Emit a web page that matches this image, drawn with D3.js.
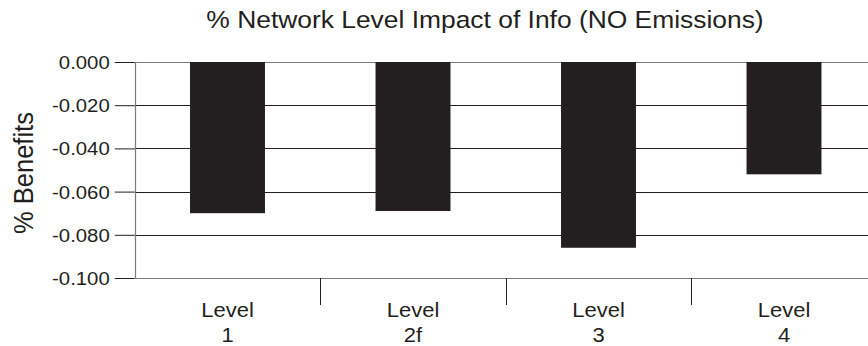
<!DOCTYPE html>
<html>
<head>
<meta charset="utf-8">
<script src="https://cdn.jsdelivr.net/npm/d3@7"></script>
<style>
html, body { margin: 0; padding: 0; background: #fff; }
svg { display: block; font-family: "Liberation Sans", Arial, Helvetica, sans-serif; }
</style>
</head>
<body>
<script>
const categories = ["Level 1", "Level 2f", "Level 3", "Level 4"];
const labelLines = [["Level", "1"], ["Level", "2f"], ["Level", "3"], ["Level", "4"]];
const values = [-0.070, -0.069, -0.086, -0.052];
const yTicks = [0, -0.02, -0.04, -0.06, -0.08, -0.1];
const titleText = "% Network Level Impact of Info (NO Emissions)";
const yAxisTitle = "% Benefits";

const W = 868, H = 346;
const svg = d3.select("body").append("svg").attr("width", W).attr("height", H);

const x = d3.scaleBand().domain(categories).range([134.75, 876.75])
  .paddingInner(0.596).paddingOuter(0.298);
const y = d3.scaleLinear().domain([-0.1, 0]).range([278, 62]);

const ink = "#231f20";
const grey = "#7a7a7a";
const sx = 1.1;
const fmt = d => d3.format(".3f")(d).replace("\u2212", "-");

// gridlines
svg.append("g").selectAll("line").data(yTicks.filter(d => d !== 0 && d !== -0.1)).join("line")
  .attr("x1", x.range()[0]).attr("x2", x.range()[1])
  .attr("y1", d => Math.round(y(d)) + 0.5).attr("y2", d => Math.round(y(d)) + 0.5)
  .attr("stroke", ink).attr("stroke-width", 1);
// top zero line
svg.append("line").attr("x1", x.range()[0]).attr("x2", x.range()[1])
  .attr("y1", Math.round(y(0)) + 0.5).attr("y2", Math.round(y(0)) + 0.5)
  .attr("stroke", grey).attr("stroke-width", 1);

// bars
svg.append("g").selectAll("rect").data(values).join("rect")
  .attr("x", (d, i) => x(categories[i]))
  .attr("width", x.bandwidth())
  .attr("y", d => y(0))
  .attr("height", d => y(d) - y(0))
  .attr("fill", ink);

// y axis
const yAxis = d3.axisLeft(y).tickValues(yTicks).tickSize(20).tickFormat(fmt);
const gy = svg.append("g").attr("transform", `translate(${x.range()[0]},0)`).call(yAxis);
gy.select(".domain").remove();
gy.selectAll(".tick line").attr("stroke", ink);
gy.selectAll(".tick text").remove();
gy.selectAll(".tick").append("text")
  .attr("fill", ink)
  .attr("font-size", 18.5)
  .attr("text-anchor", "end")
  .attr("dy", "0.35em")
  .attr("transform", `translate(-25,0) scale(${sx},1)`)
  .text(d => fmt(d));
svg.append("line").attr("x1", 135.5).attr("x2", 135.5).attr("y1", y(0)).attr("y2", y(-0.1))
  .attr("stroke", grey).attr("stroke-width", 1.2);

// x axis line
svg.append("line").attr("x1", x.range()[0]).attr("x2", x.range()[1])
  .attr("y1", Math.round(y(-0.1)) + 0.5).attr("y2", Math.round(y(-0.1)) + 0.5)
  .attr("stroke", grey).attr("stroke-width", 1.2);

// category separators
const seps = categories.slice(1).map(c => x(c) - x.step() * x.paddingInner() / 2);
svg.append("g").selectAll("line").data(seps).join("line")
  .attr("x1", d => Math.round(d) + 0.5).attr("x2", d => Math.round(d) + 0.5)
  .attr("y1", y(-0.1)).attr("y2", 305)
  .attr("stroke", ink).attr("stroke-width", 1);

// category labels
const gl = svg.append("g").selectAll("g").data(categories).join("g")
  .attr("transform", (d) => `translate(${x(d) + x.bandwidth() / 2},0)`);
gl.each(function (d, i) {
  const g = d3.select(this);
  labelLines[i].forEach((t, k) => {
    g.append("text").attr("text-anchor", "middle").attr("font-size", 20).attr("fill", ink)
      .attr("transform", `translate(0,${317 + k * 25}) scale(${sx},1)`).text(t);
  });
});

// title
svg.append("text").attr("text-anchor", "middle").attr("font-size", 24).attr("fill", ink)
  .attr("transform", `translate(485,28) scale(${sx},1)`).text(titleText);

// y axis title
svg.append("text").attr("text-anchor", "middle").attr("font-size", 25.5).attr("fill", ink)
  .attr("transform", `translate(33,173) scale(${sx},1) rotate(-90)`).text(yAxisTitle);
</script>
</body>
</html>
